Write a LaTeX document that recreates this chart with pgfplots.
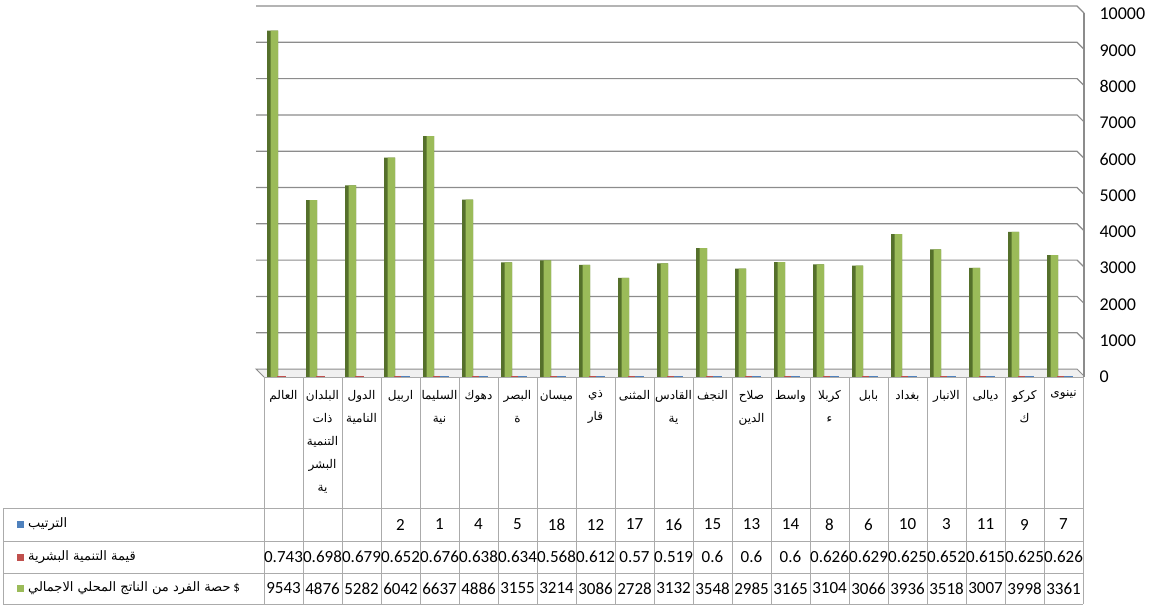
\documentclass[border=0pt]{standalone}
\usepackage{pgfplots}
\pgfplotsset{compat=1.18}
\usepackage{pgfplotstable}
\usepackage{fontspec}
\setmainfont{Carlito}
\newfontfamily\arabicfont[Script=Arabic]{DejaVu Sans}
\TeXXeTstate=1
\newcommand{\ar}[1]{{\arabicfont\beginR #1\endR}}
\definecolor{barG}{HTML}{9BBB59}
\definecolor{barGd}{HTML}{55702B}
\definecolor{barR}{HTML}{C0504D}
\definecolor{barB}{HTML}{4F81BD}
\definecolor{gridc}{HTML}{8C8C8C}
\definecolor{tabc}{HTML}{ABABAB}

\pgfplotstableread{
idx gdp hdi rank
0 9543 0.743 nan
1 4876 0.698 nan
2 5282 0.679 nan
3 6042 0.652 2
4 6637 0.676 1
5 4886 0.638 4
6 3155 0.634 5
7 3214 0.568 18
8 3086 0.612 12
9 2728 0.57 17
10 3132 0.519 16
11 3548 0.6 15
12 2985 0.6 13
13 3165 0.6 14
14 3104 0.626 8
15 3066 0.629 6
16 3936 0.625 10
17 3518 0.652 3
18 3007 0.615 11
19 3998 0.625 9
20 3361 0.626 7
}\data

\begin{document}
\begin{tikzpicture}
\begin{scope}[x=1pt,y=-1pt]
\useasboundingbox (0,0) rectangle (1153,605);
% floor
\fill[gray!12] (256,369) -- (1077,369) -- (1084,377) -- (264,377) -- cycle;
\draw[gridc, line width=1pt] (264,377) -- (256,369) -- (1077,369) -- (1084,376);
% back-wall gridlines
\foreach \v in {1,...,10} {
  \draw[gridc, line width=1.2pt] (256,{369-36.3*\v}) -- (1077,{369-36.3*\v}) -- (1084,{376-36.3*\v});
}
\draw[gridc, line width=1.2pt] (1084,13) -- (1084,377);
\end{scope}

\begin{axis}[
  at={(264pt,-377pt)}, anchor=south west,
  scale only axis, width=819pt, height=363pt,
  xmin=-0.5, xmax=20.5, ymin=0, ymax=10000,
  axis line style={draw=none},
  xtick=\empty,
  ytick={0,1000,...,10000},
  ytick pos=right,
  major tick length=0pt,
  scaled y ticks=false,
  /pgf/number format/1000 sep={},
  /pgf/number format/assume math mode=true,
  yticklabel style={anchor=west, xshift=13pt, font=\fontsize{18}{20}\selectfont, text=black},
  clip=false,
]
\addplot[ybar, bar width=11pt, bar shift=-11pt, fill=barGd, draw=none] table[x=idx, y=gdp] {\data};
\addplot[ybar, bar width=7.5pt, bar shift=-9.25pt, fill=barG, draw=none] table[x=idx, y=gdp] {\data};
\addplot[ybar, bar width=7pt, bar shift=-2pt, fill=barR, draw=barR, line width=1.2pt] table[x=idx, y=hdi] {\data};
\addplot[ybar, bar width=7pt, bar shift=5pt, fill=barB, draw=barB, line width=1.2pt] table[x=idx, y=rank] {\data};
\end{axis}

\begin{scope}[x=1pt,y=-1pt]
% table grid
\foreach \k in {0,...,21} {
  \draw[tabc, line width=1pt] ({264+39*\k},377) -- ({264+39*\k},604);
}
\draw[tabc, line width=1pt] (264,377) -- (1083,377);
\foreach \yy in {508,541,573,604} {
  \draw[tabc, line width=1pt] (3,\yy) -- (1083,\yy);
}
\draw[tabc, line width=1pt] (3,508) -- (3,604);
% legend column
\fill[barB] (17,521) rectangle (24,528);
\fill[barR] (17,553.5) rectangle (24,560.5);
\fill[barG] (17,585) rectangle (24,592);
\node[anchor=west, inner sep=0pt, font=\fontsize{13}{15}\selectfont] at (28,524.5) {\ar{الترتيب}};
\node[anchor=west, inner sep=0pt, font=\fontsize{13}{15}\selectfont] at (28,557) {\ar{قيمة التنمية البشرية}};
\node[anchor=west, inner sep=0pt, font=\fontsize{13}{15}\selectfont] at (28,588.5) {\ar{حصة الفرد من الناتج المحلي الاجمالي}\ \$};
% header labels
\foreach \lab [count=\i from 0] in {
  {\ar{العالم}},
  {\ar{البلدان}\\\ar{ذات}\\\ar{التنمية}\\\ar{البشر}\\\ar{ية}},
  {\ar{الدول}\\\ar{النامية}},
  {\ar{اربيل}},
  {\ar{السليما}\\\ar{نية}},
  {\ar{دهوك}},
  {\ar{البصر}\\\ar{ة}},
  {\ar{ميسان}},
  {\ar{ذي}\\\ar{قار}},
  {\ar{المثنى}},
  {\ar{القادس}\\\ar{ية}},
  {\ar{النجف}},
  {\ar{صلاح}\\\ar{الدين}},
  {\ar{واسط}},
  {\ar{كربلا}\\\ar{ء}},
  {\ar{بابل}},
  {\ar{بغداد}},
  {\ar{الانبار}},
  {\ar{ديالى}},
  {\ar{كركو}\\\ar{ك}},
  {\ar{نينوى}}} {
  \node[anchor=north, align=center, inner sep=0pt, font=\fontsize{12}{23}\selectfont] at ({283.5+39*\i},390) {\lab};
}
% table numbers
\foreach \v [count=\i from 3] in {2,1,4,5,18,12,17,16,15,13,14,8,6,10,3,11,9,7} {
  \node[font=\fontsize{17}{20}\selectfont, inner sep=0pt] at ({283.5+39*\i},524.5) {\v};
}
\foreach \v [count=\i from 0] in {0.743,0.698,0.679,0.652,0.676,0.638,0.634,0.568,0.612,0.57,0.519,0.6,0.6,0.6,0.626,0.629,0.625,0.652,0.615,0.625,0.626} {
  \node[font=\fontsize{17}{20}\selectfont, inner sep=0pt] at ({283.5+39*\i},557) {\v};
}
\foreach \v [count=\i from 0] in {9543,4876,5282,6042,6637,4886,3155,3214,3086,2728,3132,3548,2985,3165,3104,3066,3936,3518,3007,3998,3361} {
  \node[font=\fontsize{17}{20}\selectfont, inner sep=0pt] at ({283.5+39*\i},588.5) {\v};
}
\end{scope}
\end{tikzpicture}
\end{document}
